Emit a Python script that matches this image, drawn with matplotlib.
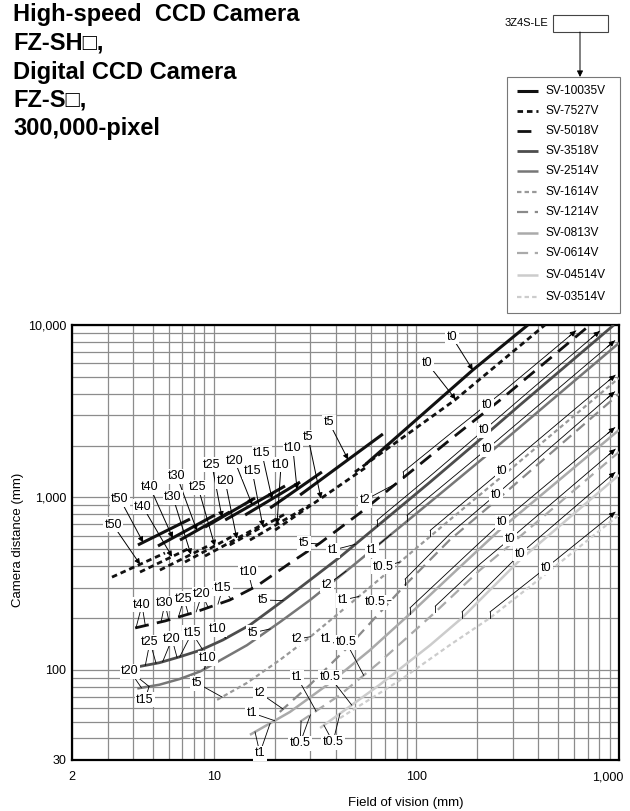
import numpy as np
import matplotlib
matplotlib.use('Agg')
import matplotlib.pyplot as plt
import matplotlib.transforms as mtransforms
from matplotlib.lines import Line2D
from matplotlib.patches import Rectangle, FancyArrowPatch
from matplotlib.ticker import LogLocator, NullFormatter, FixedLocator, FixedFormatter

plt.rcParams['font.family'] = ['Liberation Sans', 'DejaVu Sans']
NARROW = ['Liberation Sans Narrow', 'Liberation Sans', 'DejaVu Sans']

# ---- lenses (legend order) ----
lens_names = ['SV-10035V', 'SV-7527V', 'SV-5018V', 'SV-3518V', 'SV-2514V', 'SV-1614V',
              'SV-1214V', 'SV-0813V', 'SV-0614V', 'SV-04514V', 'SV-03514V']
lens_colors = ['#111111', '#111111', '#111111', '#4d4d4d', '#777777', '#999999',
               '#8a8a8a', '#aaaaaa', '#aaaaaa', '#cccccc', '#cccccc']
lens_dashes = [None, (2, 1.4), (5, 3), None, None, (2, 1.4), (5, 3), None, (5, 3), None, (2, 1.4)]
lens_widths = [2.2, 2.0, 2.0, 2.0, 1.8, 1.6, 1.6, 1.8, 1.6, 1.8, 1.6]

# ---- SV-10035V: one segment per extension tube (FOV mm, distance mm) ----
tubes_100 = ['t50', 't40', 't30', 't25', 't20', 't15', 't10', 't5', 't0']
seg100_x = [[4.23, 7.64], [5.31, 10.15], [6.82, 12.0], [9.06, 16.0], [11.4, 22.5],
            [14.3, 26.7], [19.0, 34.2], [26.7, 68.4], [56.4, 190, 355]]
seg100_y = [[530, 749], [523, 791], [566, 823], [673, 992], [740, 1165],
            [791, 1228], [868, 1404], [1033, 2332], [1562, 5483, 10000]]
tip100 = [0.1, 0.26, 0.34, 0.34, 0.45, 0.49, 0.52, 0.58, 0.66]
lab100 = [(3.45, 979), (4.85, 1149), (6.59, 1331), (9.81, 1542), (12.7, 1627),
          (17.3, 1809), (24.6, 1934), (37.0, 2737), (150, 8520)]

# ---- SV-7527V ----
tubes_75 = ['t50', 't40', 't30', 't25', 't20', 't15', 't10', 't5', 't0']
seg75_x = [[3.15, 5.75], [4.33, 7.64], [5.43, 9.59], [7.22, 12.7], [9.06, 16.9],
           [12.0, 22.5], [15.1, 29.9], [20.1, 55.8], [49.8, 155, 431]]
seg75_y = [[345, 476], [369, 509], [379, 530], [422, 605], [457, 683],
           [530, 801], [566, 904], [647, 1481], [1404, 3673, 10000]]
tip75 = [0.53, 0.64, 0.62, 0.6, 0.58, 0.6, 0.45, 0.51, 0.53]
lab75 = [(3.19, 692), (4.48, 880), (6.30, 1000), (8.37, 1149), (11.4, 1245),
         (15.5, 1422), (21.5, 1542), (29.2, 2240), (113, 6020)]

# ---- remaining lenses, drawn as one curve each ----
fov_5018 = [4.1, 5.75, 8.1, 12, 16.3, 23.8, 33.5, 52.7, 86, 146, 259, 719]
dist_5018 = [175, 192, 216, 254, 306, 416, 544, 812, 1296, 2150, 3670, 10000]
fov_3518 = [4.2, 5.4, 6.8, 8.6, 11.1, 15.1, 21.2, 29.9, 42, 66, 117, 216, 325, 943]
dist_3518 = [104, 110, 119, 130, 149, 182, 244, 332, 451, 701, 1228, 2270, 3440, 10000]
fov_2514 = [4.2, 5.4, 6.8, 8.6, 10.4, 14.6, 21.2, 29.9, 47, 83, 146, 223, 1000]
dist_2514 = [78, 82, 88.5, 98, 111, 139, 189, 254, 389, 673, 1165, 1760, 7860]
fov_1614 = [10.4, 14.6, 21.2, 29.9, 47, 83, 146, 259, 1000]
dist_1614 = [67, 84, 114, 155, 241, 422, 740, 1296, 4930]
fov_1214 = [21.2, 29.9, 47, 88, 146, 253, 1000]
dist_1214 = [57, 82, 139, 310, 566, 979, 3980]
fov_0813 = [15.1, 23.8, 37.5, 59, 93, 164, 264, 1000]
dist_0813 = [42, 57, 84, 130, 211, 395, 664, 2460]
fov_0614 = [26.7, 42, 66, 124, 206, 290, 1000]
dist_0614 = [50, 71.5, 111, 216, 379, 530, 1834]
fov_04514 = [33.5, 66, 117, 168, 325, 1000]
dist_04514 = [46, 82, 139, 200, 434, 1349]
fov_03514 = [42, 83, 146, 231, 436, 1000]
dist_03514 = [52.5, 87, 139, 200, 360, 791]

curves = {2: (fov_5018, dist_5018), 3: (fov_3518, dist_3518), 4: (fov_2514, dist_2514),
          5: (fov_1614, dist_1614), 6: (fov_1214, dist_1214), 7: (fov_0813, dist_0813),
          8: (fov_0614, dist_0614), 9: (fov_04514, dist_04514), 10: (fov_03514, dist_03514)}

# t0 range (no tube): start FOV and where the label sits
t0_start = {2: 86, 3: 64, 4: 90, 5: 117, 6: 88, 7: 93, 8: 124, 9: 168, 10: 231}
t0_label = {2: 223, 3: 216, 4: 223, 5: 264, 6: 247, 7: 264, 8: 290, 9: 325, 10: 436}

# tube labels on the lower curves: text, label FOV, label distance, lens, FOVs pointed at
tube_labels = [
    ('t40', 4.43, 238, 2, [4.14, 4.6]), ('t30', 5.75, 244, 2, [5.5, 6.0]),
    ('t25', 7.14, 258, 2, [6.7, 7.5]), ('t20', 8.76, 275, 2, [8.2, 9.4]),
    ('t15', 11.1, 298, 2, [10.5, 12.2]), ('t10', 14.8, 369, 2, [15.5]),
    ('t5', 27.9, 544, 2, [33]), ('t2', 55.8, 966, 2, [80]),
    ('t25', 4.85, 145, 3, [4.6, 5.2]), ('t20', 6.23, 151, 3, [5.6, 6.6]),
    ('t15', 7.82, 164, 3, [6.8, 8.8]), ('t10', 10.4, 172, 3, [11.5]),
    ('t5', 17.5, 254, 3, [22]), ('t1', 38.8, 495, 3, [50]),
    ('t20', 3.86, 98.4, 4, [4.4, 4.8]), ('t15', 4.58, 66.9, 4, [4.8]),
    ('t10', 9.37, 117, 4, [9.0, 10.0]), ('t5', 15.6, 164, 4, [19]),
    ('t2', 36.2, 310, 4, [45]), ('t1', 60.4, 495, 4, [75]),
    ('t5', 8.27, 83.8, 5, [11]), ('t2', 25.8, 151, 5, [30]),
    ('t1', 43.4, 254, 5, [52]), ('t0.5', 68.4, 395, 5, [83]),
    ('t2', 16.9, 73.4, 6, [22]), ('t1', 35.8, 151, 6, [45]), ('t0.5', 62.5, 247, 6, [75]),
    ('t1', 15.5, 56.2, 7, [20]), ('t1', 25.8, 90.8, 8, [32]),
    ('t0.5', 37.5, 90.8, 9, [48]), ('t0.5', 45, 145, 8, [55]),
    ('t1', 16.9, 32.9, 7, [16, 19]), ('t0.5', 26.7, 37.6, 8, [27, 30]),
    ('t0.5', 38.8, 38.1, 9, [35, 42]),
]


def on_curve(xs, ys, x):
    return 10 ** np.interp(np.log10(x), np.log10(xs), np.log10(ys))


def along(xs, ys, f):
    lx = np.log10(xs[0]) + f * (np.log10(xs[-1]) - np.log10(xs[0]))
    return 10 ** lx, on_curve(xs, ys, 10 ** lx)


def lstyle(i):
    d = dict(color=lens_colors[i], lw=lens_widths[i], solid_capstyle='butt', dash_capstyle='butt')
    if lens_dashes[i] is not None:
        d['dashes'] = lens_dashes[i]
    return d


fig = plt.figure(figsize=(6.3, 8.11), dpi=100)
ax = fig.add_axes([72 / 630, 51 / 811, 547 / 630, 435 / 811])
ax.set_xscale('log')
ax.set_yscale('log')
ax.set_xlim(2, 1000)
ax.set_ylim(30, 10000)
ax.xaxis.set_major_locator(FixedLocator([2, 10, 100, 1000]))
ax.xaxis.set_major_formatter(FixedFormatter(['2', '10', '100', '1,000']))
ax.yaxis.set_major_locator(FixedLocator([30, 100, 1000, 10000]))
ax.yaxis.set_major_formatter(FixedFormatter(['30', '100', '1,000', '10,000']))
ax.xaxis.set_minor_locator(LogLocator(subs=np.arange(2, 10)))
ax.yaxis.set_minor_locator(LogLocator(subs=np.arange(2, 10)))
ax.xaxis.set_minor_formatter(NullFormatter())
ax.yaxis.set_minor_formatter(NullFormatter())
ax.tick_params(which='both', length=0, labelsize=9)
ax.tick_params(axis='x', pad=8)
ax.tick_params(axis='y', pad=4)
ax.grid(which='both', color='#8c8c8c', lw=0.9)
ax.set_axisbelow(True)
for s in ax.spines.values():
    s.set_linewidth(1.6)
# the last x label sits a little left of its gridline
last = ax.get_xticklabels()[-1]
last.set_transform(last.get_transform() + mtransforms.ScaledTranslation(-8 / 72, 0, fig.dpi_scale_trans))

lab_kw = dict(fontsize=9, family=NARROW, ha='center', va='center', zorder=8,
              bbox=dict(boxstyle='square,pad=0.12', fc='white', ec='none'))
arr_kw = dict(arrowstyle='-|>', color='k', lw=0.7, mutation_scale=8, shrinkA=0, shrinkB=0)

# SV-10035V and SV-7527V segments with arrow labels
for segx, segy, tips, labs, tubes, li in [(seg100_x, seg100_y, tip100, lab100, tubes_100, 0),
                                          (seg75_x, seg75_y, tip75, lab75, tubes_75, 1)]:
    for xs, ys, f, (lx, ly), t in zip(segx, segy, tips, labs, tubes):
        ax.plot(xs, ys, zorder=5, **lstyle(li))
        tx, ty = along(xs, ys, f)
        ax.annotate('', xy=(tx, ty), xytext=(lx, ly), arrowprops=arr_kw, zorder=6)
        ax.text(lx, ly, t, **lab_kw)

# other lenses
for i, (xs, ys) in curves.items():
    ax.plot(xs, ys, zorder=4, **lstyle(i))

# t0 range lines with arrows to the edge
up = 10 ** (6 / 172.4)
for i, (xs, ys) in curves.items():
    x0 = t0_start[i]
    gx = np.geomspace(x0, xs[-1], 200)
    gy = on_curve(xs, ys, gx) * up
    keep = (gx <= 960) & (gy <= 9300)
    gx, gy = gx[keep], gy[keep]
    ax.plot(gx, gy, color='k', lw=0.6, zorder=6)
    ax.plot([x0, x0], [on_curve(xs, ys, x0), gy[0]], color='k', lw=0.6, zorder=6)
    ax.annotate('', xy=(gx[-1], gy[-1]), xytext=(gx[-8], gy[-8]), arrowprops=arr_kw, zorder=6)
    lx = t0_label[i]
    ax.text(lx, on_curve(xs, ys, lx) * up, 't0', **lab_kw)

# tube labels on lower curves
for t, lx, ly, li, targets in tube_labels:
    xs, ys = curves[li]
    for tx in targets:
        ax.plot([lx, tx], [ly, on_curve(xs, ys, tx)], color='k', lw=0.6, zorder=6)
    ax.text(lx, ly, t, **lab_kw)

# axis titles
fig.text(18 / 630, 1 - 540 / 811, 'Camera distance (mm)', rotation=90, ha='center', va='center', fontsize=9.5)
fig.text(406 / 630, 1 - 803 / 811, 'Field of vision (mm)', ha='center', va='center', fontsize=9.5)

# title
title_lines = ['High-speed  CCD Camera', 'FZ-SH\u25a1,', 'Digital CCD Camera', 'FZ-S\u25a1,', '300,000-pixel']
title_y = [14, 43, 72, 100, 128]
for txt, yy in zip(title_lines, title_y):
    fig.text(13 / 630, 1 - yy / 811, txt, fontsize=17, weight='bold', ha='left', va='center')

# model box and arrow
fig.text(548 / 630, 1 - 23 / 811, '3Z4S-LE', fontsize=8, ha='right', va='center')
fig.add_artist(Rectangle((553 / 630, 1 - 32 / 811), 55 / 630, 17 / 811, transform=fig.transFigure,
                         fill=False, ec='#444444', lw=0.8))
fig.add_artist(FancyArrowPatch((580 / 630, 1 - 32 / 811), (580 / 630, 1 - 77 / 811),
                               transform=fig.transFigure, arrowstyle='-|>', mutation_scale=9,
                               color='k', lw=0.7, shrinkA=0, shrinkB=0))

# legend box
fig.add_artist(Rectangle((507 / 630, 1 - 313 / 811), 113 / 630, 236 / 811, transform=fig.transFigure,
                         fill=False, ec='#777777', lw=0.8))
leg_y = [91, 111, 131, 151, 171, 192, 212, 233, 253, 275, 297]
for i, yy in enumerate(leg_y):
    yf = 1 - yy / 811
    ln = Line2D([517 / 630, 538 / 630], [yf, yf], transform=fig.transFigure, **lstyle(i))
    fig.add_artist(ln)
    fig.text(545 / 630, yf, lens_names[i], fontsize=8.6, ha='left', va='center')

fig.savefig('out.png', dpi=100)
